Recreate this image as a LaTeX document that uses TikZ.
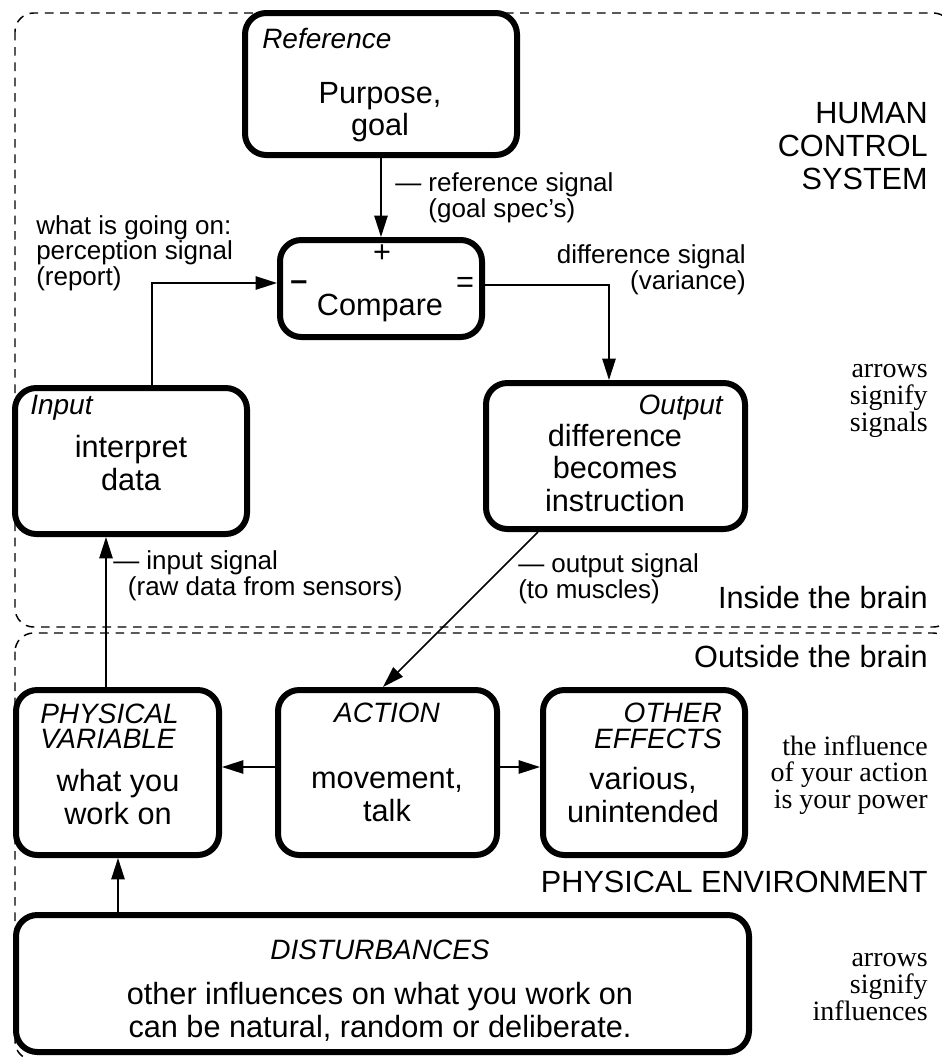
\documentclass[tikz,border=0pt]{standalone}
\usepackage{fontspec}
\setmainfont{Liberation Sans}
\newfontfamily\seriffont{Liberation Serif}
\usetikzlibrary{arrows.meta,fit,calc}
\begin{document}
\begin{tikzpicture}[x=0.75pt,y=-0.75pt,
 pbox/.style={draw, fill=white, line width=4.5pt, rounded corners=16pt, inner sep=0pt},
 region/.style={draw, line width=1.1pt, dash pattern=on 6.5pt off 5pt, rounded corners=14pt},
 sig/.style={line width=1.1pt, -{Triangle[length=16pt,width=10pt]}},
 big/.style={font=\fontsize{23}{24.5}\selectfont, inner sep=0pt, align=center},
 small/.style={font=\fontsize{19.5}{18}\selectfont, inner sep=0pt, align=left},
 ital/.style={font=\fontsize{21}{19}\selectfont\itshape, inner sep=0pt},
 note/.style={font=\seriffont\fontsize{21}{20}\selectfont, inner sep=0pt, align=right, anchor=east},
]
\useasboundingbox (0,0) rectangle (942,1057);
\clip (0,0) rectangle (942,1057);

% regions
\draw[region] (15,13) rectangle (952,627);
\draw[region] (15,633) rectangle (952,1060);

% boxes
\node[pbox, fit={(245,13) (517,155)}] (ref) {};
\node[pbox, fit={(280,240) (482,337)}] (cmp) {};
\node[pbox, fit={(15,388) (247,534)}] (inp) {};
\node[pbox, fit={(486,383) (745,529)}] (out) {};
\node[pbox, fit={(16,690) (219,855)}] (pv) {};
\node[pbox, fit={(278,690) (497,855)}] (act) {};
\node[pbox, fit={(543,690) (745,855)}] (oth) {};
\node[pbox, fit={(16,915) (749,1052)}] (dist) {};

% texts in boxes
\node[ital, anchor=west] (reft) at (262,38) {Reference};
\node[big] (purp) at (380,112) {Purpose,\\goal};
\node[big] (plus) at (382,254) {+};
\node[big, anchor=base] (minus) at (299,290) {\bfseries –};
\node[big] (eq) at (465,285) {=};
\node[big] (cmpt) at (380,308) {Compare};
\node[ital, anchor=west] (inpt) at (30,408) {Input};
\node[big] (inpx) at (131,463) {interpret\\data};
\node[ital, anchor=east] (outt) at (723,408) {Output};
\node[big] (outx) at (615,468) {difference\\becomes\\instruction};
\node[ital, anchor=west, align=left] (pvt) at (40,726) {PHYSICAL\\VARIABLE};
\node[big] (pvx) at (118,797) {what you\\work on};
\node[ital] (actt) at (387,713) {ACTION};
\node[big] (actx) at (387,795) {movement,\\talk};
\node[ital, anchor=east, align=right] (otht) at (722,726) {OTHER\\EFFECTS};
\node[big] (othx) at (643,795) {various,\\unintended};
\node[ital] (distt) at (380,950) {DISTURBANCES};
\node[big] (distx) at (380,1012) {other influences on what you work on\\can be natural, random or deliberate.};

% side texts
\node[big, align=right, anchor=east] (hcs) at (928,146) {HUMAN\\CONTROL\\SYSTEM};
\node[note] (n1) at (928,401) {arrows\\signify\\signals};
\node[big, anchor=east] (inb) at (928,598) {Inside the brain};
\node[big, anchor=east] (outb) at (928,657) {Outside the brain};
\node[note] (n2) at (928,775) {the influence\\of your action\\is your power};
\node[big, anchor=east] (penv) at (928,882) {PHYSICAL ENVIRONMENT};
\node[note] (n3) at (928,987) {arrows\\signify\\influences};

% connector labels
\node[small, anchor=west] (lref) at (395,198) {— reference signal\\\phantom{— }(goal spec's)};
\node[small, anchor=west] (lper) at (36,253) {what is going on:\\perception signal\\(report)};
\node[small, anchor=east, align=right] (ldif) at (746,270) {difference signal\\(variance)};
\node[small, anchor=west] (linp) at (113,576) {— input signal\\\hspace*{11pt}(raw data from sensors)};
\node[small, anchor=west] (lout) at (518,579) {— output signal\\(to muscles)};

% connectors
\coordinate (pin) at (152,283);
\coordinate (pdf) at (609,285);
\coordinate (pinp) at (106,0);
\coordinate (pdis) at (118,0);
\coordinate (pos) at (538,0);
\coordinate (pac) at (383,0);
\coordinate (ph) at (0,767);
\draw[sig] (ref.south) -- (cmp.north);
\draw[sig] (inp.north -| pin) |- (cmp.west |- pin);
\draw[sig] (cmp.east |- pdf) -| (out.north -| pdf);
\draw[sig] (pv.north -| pinp) -- (inp.south -| pinp);
\draw[sig] (dist.north -| pdis) -- (pv.south -| pdis);
\draw[sig] (out.south -| pos) -- (act.north -| pac);
\draw[sig] (act.west |- ph) -- (pv.east |- ph);
\draw[sig] (act.east |- ph) -- (oth.west |- ph);
\end{tikzpicture}
\end{document}
